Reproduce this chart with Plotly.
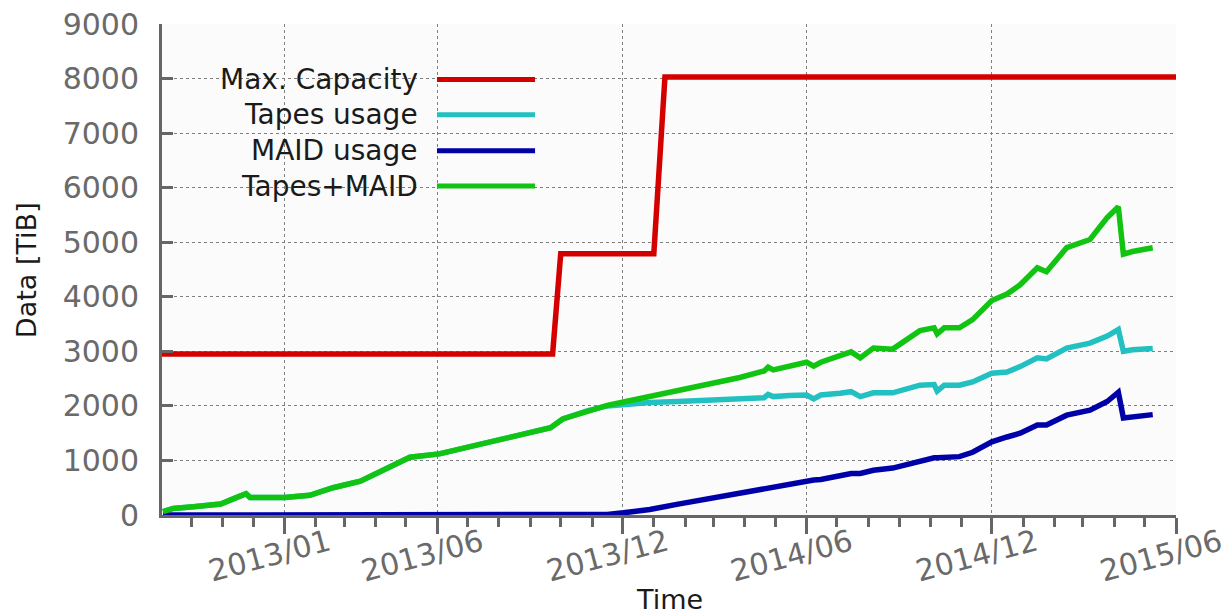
import plotly.graph_objects as go

# ---------------- data ----------------
cap_dates = ["2012-09-02", "2013-09-23", "2013-10-01", "2014-01-01", "2014-01-12", "2015-06-01"]
cap_values = [2950, 2950, 4790, 4790, 8030, 8030]

usage_dates = [
    "2012-09-03", "2012-09-13", "2012-10-03", "2012-10-30", "2012-11-12", "2012-11-24",
    "2012-11-28", "2013-01-01", "2013-01-26", "2013-02-18", "2013-03-17", "2013-04-18",
    "2013-05-05", "2013-06-03", "2013-07-01", "2013-08-02", "2013-08-29", "2013-09-21",
    "2013-10-03", "2013-10-27", "2013-11-16", "2013-12-02", "2013-12-28", "2014-01-25",
    "2014-02-25", "2014-03-27", "2014-04-20", "2014-04-24", "2014-04-29", "2014-05-15",
    "2014-06-01", "2014-06-08", "2014-06-15", "2014-07-04", "2014-07-15", "2014-07-24",
    "2014-08-06", "2014-08-25", "2014-09-10", "2014-09-21", "2014-10-05", "2014-10-08",
    "2014-10-15", "2014-10-30", "2014-11-12", "2014-12-01", "2014-12-16", "2014-12-29",
    "2015-01-15", "2015-01-24", "2015-02-13", "2015-03-08", "2015-03-25", "2015-04-05",
    "2015-04-10", "2015-04-19", "2015-05-09",
]

tapes_maid = [
    60, 120, 150, 200, 300, 390,
    320, 320, 360, 500, 620, 900,
    1060, 1120, 1240, 1400, 1510, 1600,
    1760, 1910, 2010, 2070, 2170, 2280,
    2400, 2520, 2640, 2710, 2660, 2740,
    2800, 2730, 2800, 2920, 2990, 2880,
    3060, 3040, 3250, 3380, 3430, 3320,
    3430, 3430, 3580, 3930, 4050, 4220,
    4530, 4460, 4900, 5050, 5450, 5650,
    4780, 4830, 4900,
]

tapes = [
    60, 120, 150, 200, 300, 390,
    320, 320, 360, 500, 620, 900,
    1060, 1120, 1240, 1400, 1510, 1600,
    1760, 1910, 2000, 2030, 2060, 2080,
    2100, 2130, 2150, 2210, 2170, 2190,
    2200, 2130, 2200, 2230, 2260, 2170,
    2240, 2240, 2310, 2380, 2390, 2270,
    2380, 2380, 2440, 2600, 2620, 2720,
    2880, 2860, 3060, 3150, 3280, 3400,
    3000, 3030, 3050,
]

maid = [
    0, 0, 0, 0, 0, 0,
    0, 0, 0, 0, 0, 0,
    0, 0, 0, 0, 0, 0,
    0, 0, 10, 40, 100, 200,
    300, 400, 490, 500, 520, 580,
    620, 640, 650, 720, 760, 760,
    820, 860, 940, 1000, 1050, 1050,
    1060, 1070, 1150, 1340, 1430, 1500,
    1650, 1650, 1830, 1920, 2080, 2250,
    1780, 1800, 1840,
]

x_tickvals = ["2013-01-01", "2013-06-01", "2013-12-01", "2014-06-01", "2014-12-01", "2015-06-01"]
x_ticktext = ["2013/01", "2013/06", "2013/12", "2014/06", "2014/12", "2015/06"]
y_tickvals = [0, 1000, 2000, 3000, 4000, 5000, 6000, 7000, 8000, 9000]

series_names = ["Max. Capacity", "Tapes usage", "MAID usage", "Tapes+MAID"]
series_colors = ["#d40000", "#22c0c0", "#0000a8", "#12c412"]

FONT = "DejaVu Sans, Liberation Sans, sans-serif"

fig = go.Figure()
fig.add_trace(go.Scatter(x=cap_dates, y=cap_values, mode="lines", name=series_names[0],
                         line=dict(color=series_colors[0], width=5.5), cliponaxis=False))
fig.add_trace(go.Scatter(x=usage_dates, y=tapes, mode="lines", name=series_names[1],
                         line=dict(color=series_colors[1], width=5.5)))
fig.add_trace(go.Scatter(x=usage_dates, y=maid, mode="lines", name=series_names[2],
                         line=dict(color=series_colors[2], width=5.5), cliponaxis=False))
fig.add_trace(go.Scatter(x=usage_dates, y=tapes_maid, mode="lines", name=series_names[3],
                         line=dict(color=series_colors[3], width=5.5)))

# custom legend (text, then line sample, as in the reference)
leg_y = [0.887, 0.815, 0.742, 0.670]
for name, color, yy in zip(series_names, series_colors, leg_y):
    fig.add_annotation(x=0.2544, y=yy, xref="paper", yref="paper", text=name,
                       showarrow=False, xanchor="right", yanchor="middle",
                       font=dict(family=FONT, size=28, color="#1a1a1a"))
    fig.add_shape(type="line", xref="paper", yref="paper", x0=0.2712, x1=0.3679,
                  y0=yy, y1=yy, line=dict(color=color, width=5))

fig.add_annotation(x=-0.133, y=0.499, xref="paper", yref="paper", text="Data [TiB]",
                   textangle=-90, showarrow=False, xanchor="center", yanchor="middle",
                   font=dict(family=FONT, size=27, color="#1a1a1a"))
fig.add_annotation(x=0.5, y=-0.173, xref="paper", yref="paper", text="Time",
                   showarrow=False, xanchor="center", yanchor="middle",
                   font=dict(family=FONT, size=27, color="#1a1a1a"))

fig.update_layout(
    width=1227, height=614,
    margin=dict(l=162, r=51, t=24, b=99, autoexpand=False),
    paper_bgcolor="white",
    plot_bgcolor="#fbfbfb",
    showlegend=False,
    font=dict(family=FONT),
)

fig.update_xaxes(
    type="date",
    automargin=False,
    range=["2012-09-02", "2015-06-01"],
    tickmode="array", tickvals=x_tickvals, ticktext=x_ticktext,
    tickangle=-15,
    ticklabelshift=44,
    ticklabelstandoff=-20,
    ticklabeloverflow="allow",
    tickfont=dict(family=FONT, size=30, color="#6a6a6a"),
    ticks="outside", ticklen=16, tickwidth=3, tickcolor="#666666",
    showline=True, linecolor="#666666", linewidth=3,
    showgrid=True, gridcolor="#808080", griddash="dot", gridwidth=1,
    zeroline=False,
    minor=dict(dtick="M1", tick0="2012-09-01", ticks="outside", ticklen=9,
               tickwidth=3, tickcolor="#666666", showgrid=False),
)

fig.update_yaxes(
    automargin=False,
    range=[0, 9000],
    tickmode="array", tickvals=y_tickvals,
    tickfont=dict(family=FONT, size=30, color="#6a6a6a"),
    ticks="inside", ticklen=11, tickwidth=3, tickcolor="#666666",
    ticklabelstandoff=14,
    showline=True, linecolor="#666666", linewidth=3,
    showgrid=True, gridcolor="#808080", griddash="dot", gridwidth=1,
    zeroline=False,
)

fig.write_html("out.html", config={"displayModeBar": False},
               post_script="document.body.style.margin='0';document.body.style.overflow='hidden';")
